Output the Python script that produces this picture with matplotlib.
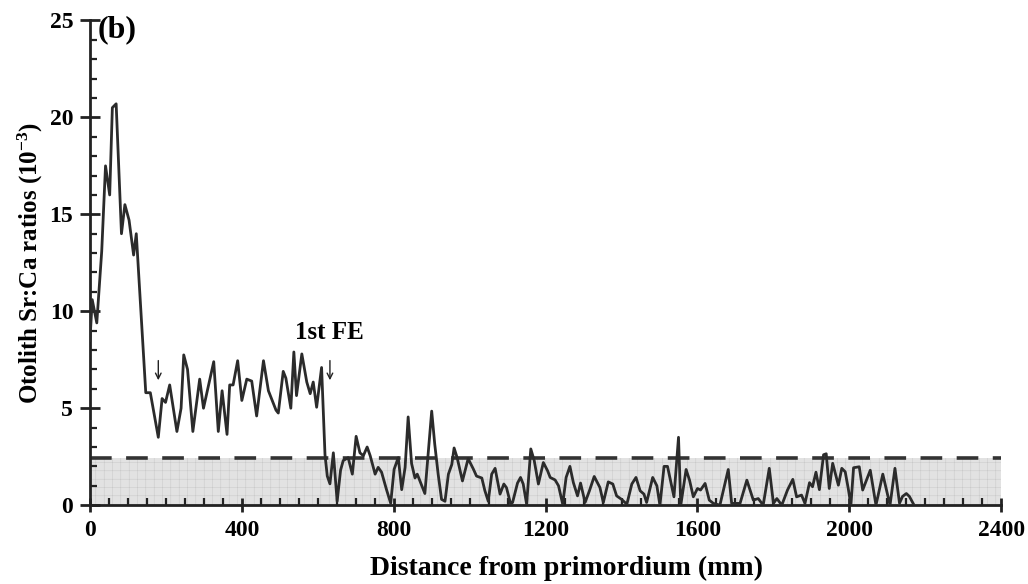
import matplotlib
matplotlib.use('Agg')
import matplotlib.pyplot as plt
from matplotlib.ticker import MultipleLocator

plt.rcParams['font.family'] = ['Liberation Serif', 'DejaVu Serif']
plt.rcParams['font.weight'] = 'bold'
plt.rcParams['mathtext.fontset'] = 'custom'
plt.rcParams['mathtext.rm'] = 'Liberation Serif:bold'
plt.rcParams['mathtext.bf'] = 'Liberation Serif:bold'
plt.rcParams['mathtext.default'] = 'rm'
plt.rcParams['hatch.linewidth'] = 0.3

# distance from primordium and Sr:Ca ratio
distance = [0, 6, 18, 31, 41, 52, 59, 69, 83, 92, 103, 115, 122, 147, 159, 180,
            190, 199, 210, 229, 240, 247, 257, 271, 289, 299, 326, 338, 348, 361,
            368, 377, 389, 400, 413, 426, 439, 457, 470, 490, 496, 509, 516, 529,
            537, 544, 558, 571, 580, 588, 597, 610, 619, 625, 632, 641, 651, 660,
            667, 680, 691, 701, 711, 720, 730, 738, 751, 759, 768, 781, 792, 801,
            812, 821, 830, 838, 847, 856, 862, 869, 882, 888, 900, 908, 917, 926,
            935, 944, 953, 959, 967, 981, 996, 1010, 1018, 1032, 1040, 1049, 1058,
            1067, 1080, 1090, 1097, 1108, 1113, 1126, 1134, 1141, 1150, 1161, 1170,
            1181, 1194, 1205, 1212, 1225, 1234, 1245, 1254, 1264, 1273, 1284, 1292,
            1304, 1315, 1328, 1343, 1352, 1365, 1377, 1387, 1400, 1414, 1427, 1438,
            1449, 1459, 1466, 1482, 1493, 1501, 1512, 1521, 1538, 1550, 1556, 1570,
            1579, 1589, 1600, 1608, 1620, 1631, 1642, 1659, 1681, 1690, 1712, 1730,
            1747, 1760, 1773, 1789, 1800, 1809, 1822, 1837, 1851, 1861, 1874, 1883,
            1895, 1903, 1912, 1921, 1932, 1939, 1947, 1956, 1971, 1980, 1989, 1997,
            2004, 2011, 2026, 2035, 2055, 2070, 2088, 2107, 2120, 2132, 2140, 2150,
            2158, 2169]
srca = [8.5, 10.6, 9.4, 13.1, 17.5, 16.0, 20.5, 20.7, 14.0, 15.5, 14.7, 12.9, 14.0,
        5.8, 5.8, 3.5, 5.5, 5.3, 6.2, 3.8, 5.0, 7.75, 7.0, 3.8, 6.5, 5.0, 7.4, 3.8,
        5.9, 3.65, 6.2, 6.2, 7.45, 5.4, 6.5, 6.4, 4.6, 7.45, 5.9, 4.9, 4.75, 6.9,
        6.55, 5.0, 7.9, 5.65, 7.8, 6.35, 5.75, 6.35, 5.05, 7.1, 2.6, 1.5, 1.1, 2.7,
        0.2, 1.8, 2.3, 2.45, 1.6, 3.55, 2.7, 2.55, 3.0, 2.55, 1.6, 1.95, 1.7, 0.8,
        0.1, 1.85, 2.45, 0.8, 1.95, 4.55, 2.15, 1.4, 1.6, 1.25, 0.6, 2.0, 4.85, 3.15,
        1.6, 0.3, 0.2, 1.6, 2.1, 2.95, 2.45, 1.25, 2.4, 1.85, 1.5, 1.4, 0.75, 0.2,
        1.6, 1.9, 0.57, 1.09, 0.9, 0.05, 0.14, 1.14, 1.43, 1.09, 0.05, 2.9, 2.3,
        1.09, 2.2, 1.78, 1.43, 1.3, 1.0, 0.05, 1.43, 2.0, 1.17, 0.48, 1.14, 0.14,
        0.72, 1.48, 0.91, 0.14, 1.2, 1.09, 0.48, 0.3, 0.05, 1.09, 1.43, 0.74, 0.57,
        0.14, 1.43, 1.0, 0.0, 2.0, 2.0, 0.43, 3.5, 0.0, 1.84, 1.29, 0.43, 0.86, 0.78,
        1.12, 0.26, 0.09, 0.0, 1.84, 0.09, 0.09, 1.29, 0.26, 0.34, 0.0, 1.9, 0.09,
        0.34, 0.0, 0.78, 1.33, 0.43, 0.52, 0.09, 1.16, 0.95, 1.7, 0.8, 2.6, 2.65,
        0.86, 2.16, 1.03, 1.9, 1.72, 0.86, 0.0, 1.93, 1.98, 0.78, 1.8, 0.0, 1.6,
        0.0, 1.9, 0.1, 0.45, 0.6, 0.45, 0.05]

# freshwater reference band
band_x = [0, 2400]
band_top = 2.45

fig = plt.figure(figsize=(10.28, 5.84), dpi=100)
ax = fig.add_axes([0.0875, 0.135, 0.8865, 0.83])

ax.fill_between(band_x, 0, band_top, facecolor='#e2e2e2', edgecolor='#c4c4c4',
                hatch='++', linewidth=0, zorder=1)
ax.plot(band_x, [band_top, band_top], color='#333333', lw=2.6,
        dashes=(6, 4), zorder=2)
ax.plot(distance, srca, color='#2b2b2b', lw=2, zorder=3)

ax.set_xlim(0, 2400)
ax.set_ylim(0, 25)
ax.xaxis.set_major_locator(MultipleLocator(400))
ax.xaxis.set_minor_locator(MultipleLocator(50))
ax.yaxis.set_major_locator(MultipleLocator(5))
ax.yaxis.set_minor_locator(MultipleLocator(1))
ax.spines['top'].set_visible(False)
ax.spines['right'].set_visible(False)
for s in ['left', 'bottom']:
    ax.spines[s].set_linewidth(2)
    ax.spines[s].set_color('#222222')
ax.tick_params(which='major', direction='inout', length=10, width=2,
               color='#222222', labelsize=17, pad=6)
ax.tick_params(which='minor', direction='in', length=5, width=1.6,
               color='#222222')
ax.tick_params(axis='y', which='major', length=14, pad=5)

ax.set_xlabel('Distance from primordium (mm)', fontsize=20, fontweight='bold')
ax.xaxis.set_label_coords(0.523, -0.105)
ax.set_ylabel(r'Otolith Sr:Ca ratios (10$^{-3}$)', fontsize=18,
              fontweight='bold', labelpad=3)

ax.text(20, 24.5, '(b)', fontsize=23, fontweight='bold', va='center',
        ha='left')
ax.text(630, 8.9, '1st FE', fontsize=18, fontweight='bold', ha='center',
        va='center')
ax.annotate('', xy=(180, 6.3), xytext=(180, 7.6),
            arrowprops=dict(arrowstyle='->', lw=1, color='#222222'))
ax.annotate('', xy=(632, 6.3), xytext=(632, 7.6),
            arrowprops=dict(arrowstyle='->', lw=1, color='#222222'))

fig.savefig('out.png', dpi=100)
